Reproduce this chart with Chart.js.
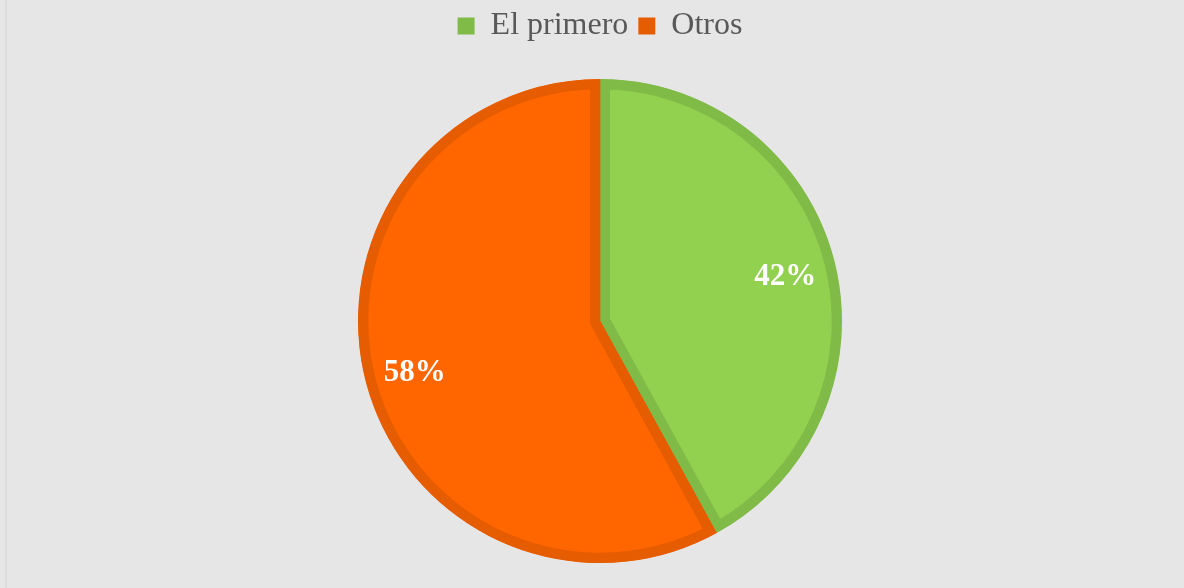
<!DOCTYPE html>
<html>
<head>
<meta charset="utf-8">
<script src="https://cdn.jsdelivr.net/npm/chart.js@4.4.1/dist/chart.umd.min.js"></script>
<style>
  html, body { margin: 0; padding: 0; background: #e6e6e6; }
  #wrap { position: relative; width: 1184px; height: 588px; background: #e6e6e6; }
  #edge { position: absolute; left: 5px; top: 0; width: 2px; height: 588px; background: #dcdcdc; }
</style>
</head>
<body>
<div id="wrap">
  <div id="edge"></div>
  <canvas id="pieChart"></canvas>
</div>
<script>
// datos del gráfico
const categories = ['El primero', 'Otros'];
const values = [42, 58];
const fillColors = ['#92d050', '#ff6600'];
const edgeColors = ['#80bb47', '#e65c00'];

const serif = "'Liberation Serif', 'Times New Roman', serif";

// la leyenda ocupa hasta y = 79 (el pastel empieza ahí)
const legendSpace = {
  id: 'legendSpace',
  beforeInit(chart) {
    const fit = chart.legend.fit;
    chart.legend.fit = function () {
      fit.bind(chart.legend)();
      this.height = 79;
    };
  }
};

// etiquetas de porcentaje dentro de cada sector
const pctLabels = {
  id: 'pctLabels',
  afterDatasetsDraw(chart) {
    const ctx = chart.ctx;
    const meta = chart.getDatasetMeta(0);
    const total = values.reduce((a, b) => a + b, 0);
    ctx.save();
    ctx.fillStyle = '#ffffff';
    ctx.font = 'bold 31px ' + serif;
    ctx.textAlign = 'center';
    ctx.textBaseline = 'middle';
    meta.data.forEach((arc, i) => {
      const p = arc.getProps(['x', 'y', 'startAngle', 'endAngle', 'outerRadius'], true);
      const mid = (p.startAngle + p.endAngle) / 2;
      const r = p.outerRadius * 0.79;
      const pct = Math.round(values[i] / total * 100) + '%';
      ctx.fillText(pct, p.x + Math.cos(mid) * r, p.y + Math.sin(mid) * r + 4);
    });
    ctx.restore();
  }
};

const ctx = document.getElementById('pieChart').getContext('2d');
new Chart(ctx, {
  type: 'pie',
  data: {
    labels: categories,
    datasets: [{
      data: values,
      backgroundColor: fillColors,
      borderColor: edgeColors,
      borderWidth: 10,
      borderAlign: 'inner'
    }]
  },
  options: {
    responsive: true,
    maintainAspectRatio: false,
    animation: false,
    events: [],
    layout: { padding: { top: 0, bottom: 25, left: 16 } },
    plugins: {
      tooltip: { enabled: false },
      legend: {
        position: 'top',
        labels: {
          font: { family: serif, size: 32 },
          color: '#595959',
          boxWidth: 17,
          boxHeight: 17,
          padding: 10,
          generateLabels(chart) {
            return categories.map((c, i) => ({
              text: c,
              fillStyle: edgeColors[i],
              strokeStyle: edgeColors[i],
              lineWidth: 0,
              fontColor: '#595959',
              index: i
            }));
          }
        }
      }
    }
  },
  plugins: [legendSpace, pctLabels]
});
</script>
</body>
</html>
